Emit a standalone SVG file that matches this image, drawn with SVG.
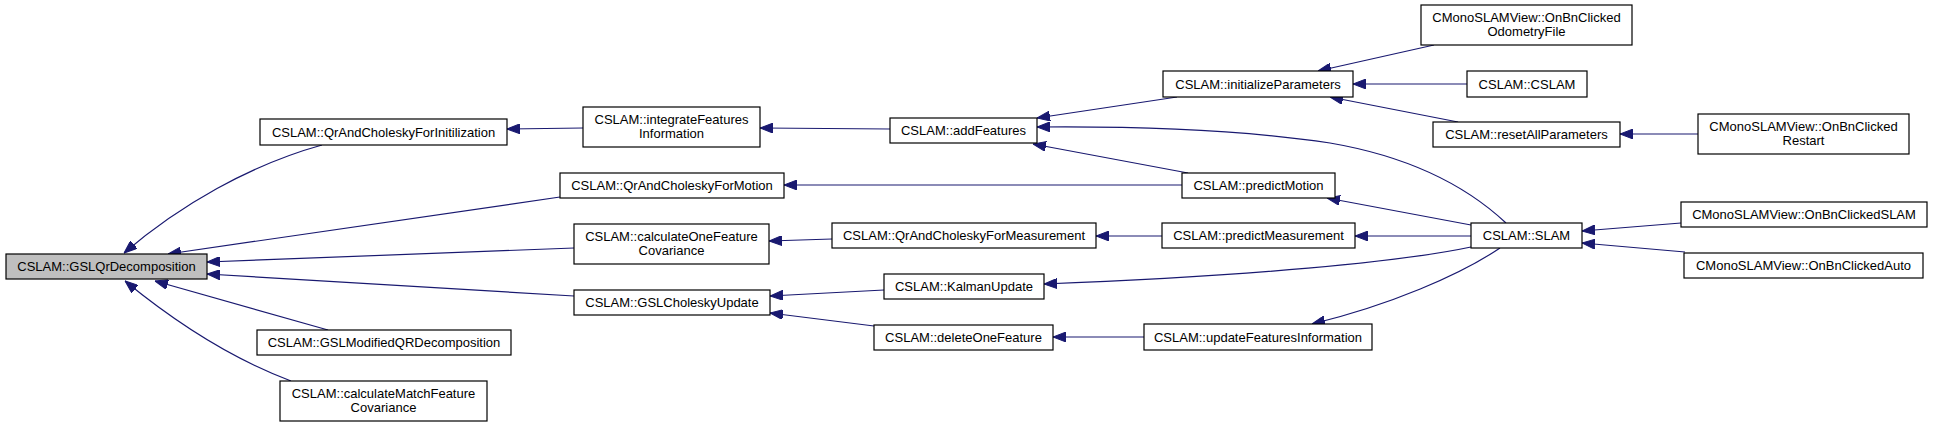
<svg xmlns="http://www.w3.org/2000/svg" width="1933" height="427" viewBox="0 0 1933 427">
<style>
.n rect{fill:#ffffff;stroke:#000000;stroke-width:1.2}
.n.root rect{fill:#bfbfbf}
.n text{font-family:"Liberation Sans",Arial,sans-serif;font-size:13px;fill:#000000;text-anchor:middle}
.e path{fill:none;stroke:#191970;stroke-width:1.2;marker-end:url(#ah)}
</style>
<defs>
<marker id="ah" viewBox="0 0 13 10" refX="13" refY="5" markerWidth="13" markerHeight="10" markerUnits="userSpaceOnUse" orient="auto">
<polygon points="0,0 13,5 0,10" fill="#191970" stroke="#191970" stroke-width="1"/>
</marker>
</defs>
<rect width="1933" height="427" fill="#ffffff"/>
<g id="connectors" class="e">
<path d="M322,145 C250,165 180,205 124,253"/>
<path d="M560,197 L168,254"/>
<path d="M574,248 L207,262"/>
<path d="M574,296 L207,274"/>
<path d="M328,330 L155,281"/>
<path d="M291,381 C230,358 175,322 125,281"/>
<path d="M583,128 L507,129"/>
<path d="M890,129 L760,128"/>
<path d="M1177,97 L1037,118"/>
<path d="M1506,223 C1460,180 1400,155 1330,143 C1250,131 1150,126 1037,127"/>
<path d="M1188,173 L1033,144"/>
<path d="M1182,185 L784,185"/>
<path d="M832,239 L769,241"/>
<path d="M1162,236 L1096,236"/>
<path d="M1471,236 L1355,236"/>
<path d="M1471,225 L1327,198"/>
<path d="M1471,247 C1400,262 1250,276 1044,284"/>
<path d="M1500,248 C1460,275 1390,305 1312,324"/>
<path d="M884,290 L770,296"/>
<path d="M874,326 L770,313"/>
<path d="M1144,337 L1053,337"/>
<path d="M1434,45 L1318,71"/>
<path d="M1467,84 L1353,84"/>
<path d="M1458,122 L1330,97"/>
<path d="M1698,134 L1620,134"/>
<path d="M1681,223 L1582,231"/>
<path d="M1685,252 L1582,243"/>
</g>
<g id="n_GSLQrDecomposition" class="n root"><rect x="6" y="254" width="201" height="25"/><text x="106.5" y="271">CSLAM::GSLQrDecomposition</text></g>
<g id="n_QrAndCholeskyForInitilization" class="n"><rect x="260" y="119" width="247" height="26"/><text x="383.5" y="136.5">CSLAM::QrAndCholeskyForInitilization</text></g>
<g id="n_GSLModifiedQRDecomposition" class="n"><rect x="257" y="330" width="254" height="25"/><text x="384" y="347">CSLAM::GSLModifiedQRDecomposition</text></g>
<g id="n_calculateMatchFeatureCovariance" class="n"><rect x="280" y="381" width="207" height="40"/><text x="383.5" y="397.5">CSLAM::calculateMatchFeature</text><text x="383.5" y="411.5">Covariance</text></g>
<g id="n_integrateFeaturesInformation" class="n"><rect x="583" y="107" width="177" height="40"/><text x="671.5" y="123.5">CSLAM::integrateFeatures</text><text x="671.5" y="137.5">Information</text></g>
<g id="n_QrAndCholeskyForMotion" class="n"><rect x="560" y="173" width="224" height="25"/><text x="672" y="190">CSLAM::QrAndCholeskyForMotion</text></g>
<g id="n_calculateOneFeatureCovariance" class="n"><rect x="574" y="224" width="195" height="40"/><text x="671.5" y="240.5">CSLAM::calculateOneFeature</text><text x="671.5" y="254.5">Covariance</text></g>
<g id="n_GSLCholeskyUpdate" class="n"><rect x="574" y="290" width="196" height="25"/><text x="672" y="307">CSLAM::GSLCholeskyUpdate</text></g>
<g id="n_addFeatures" class="n"><rect x="890" y="118" width="147" height="25"/><text x="963.5" y="135">CSLAM::addFeatures</text></g>
<g id="n_QrAndCholeskyForMeasurement" class="n"><rect x="832" y="223" width="264" height="25"/><text x="964" y="240">CSLAM::QrAndCholeskyForMeasurement</text></g>
<g id="n_KalmanUpdate" class="n"><rect x="884" y="274" width="160" height="25"/><text x="964" y="291">CSLAM::KalmanUpdate</text></g>
<g id="n_deleteOneFeature" class="n"><rect x="874" y="325" width="179" height="25"/><text x="963.5" y="342">CSLAM::deleteOneFeature</text></g>
<g id="n_initializeParameters" class="n"><rect x="1163" y="71" width="190" height="26"/><text x="1258" y="88.5">CSLAM::initializeParameters</text></g>
<g id="n_predictMotion" class="n"><rect x="1182" y="173" width="153" height="25"/><text x="1258.5" y="190">CSLAM::predictMotion</text></g>
<g id="n_predictMeasurement" class="n"><rect x="1162" y="223" width="193" height="25"/><text x="1258.5" y="240">CSLAM::predictMeasurement</text></g>
<g id="n_updateFeaturesInformation" class="n"><rect x="1144" y="324" width="228" height="26"/><text x="1258" y="341.5">CSLAM::updateFeaturesInformation</text></g>
<g id="n_SLAM" class="n"><rect x="1471" y="223" width="111" height="25"/><text x="1526.5" y="240">CSLAM::SLAM</text></g>
<g id="n_OnBnClickedOdometryFile" class="n"><rect x="1421" y="5" width="211" height="40"/><text x="1526.5" y="21.5">CMonoSLAMView::OnBnClicked</text><text x="1526.5" y="35.5">OdometryFile</text></g>
<g id="n_CSLAM" class="n"><rect x="1467" y="71" width="120" height="26"/><text x="1527" y="88.5">CSLAM::CSLAM</text></g>
<g id="n_resetAllParameters" class="n"><rect x="1433" y="122" width="187" height="25"/><text x="1526.5" y="139">CSLAM::resetAllParameters</text></g>
<g id="n_OnBnClickedRestart" class="n"><rect x="1698" y="114" width="211" height="40"/><text x="1803.5" y="130.5">CMonoSLAMView::OnBnClicked</text><text x="1803.5" y="144.5">Restart</text></g>
<g id="n_OnBnClickedSLAM" class="n"><rect x="1681" y="202" width="246" height="25"/><text x="1804" y="219">CMonoSLAMView::OnBnClickedSLAM</text></g>
<g id="n_OnBnClickedAuto" class="n"><rect x="1684" y="253" width="239" height="25"/><text x="1803.5" y="270">CMonoSLAMView::OnBnClickedAuto</text></g>
</svg>
